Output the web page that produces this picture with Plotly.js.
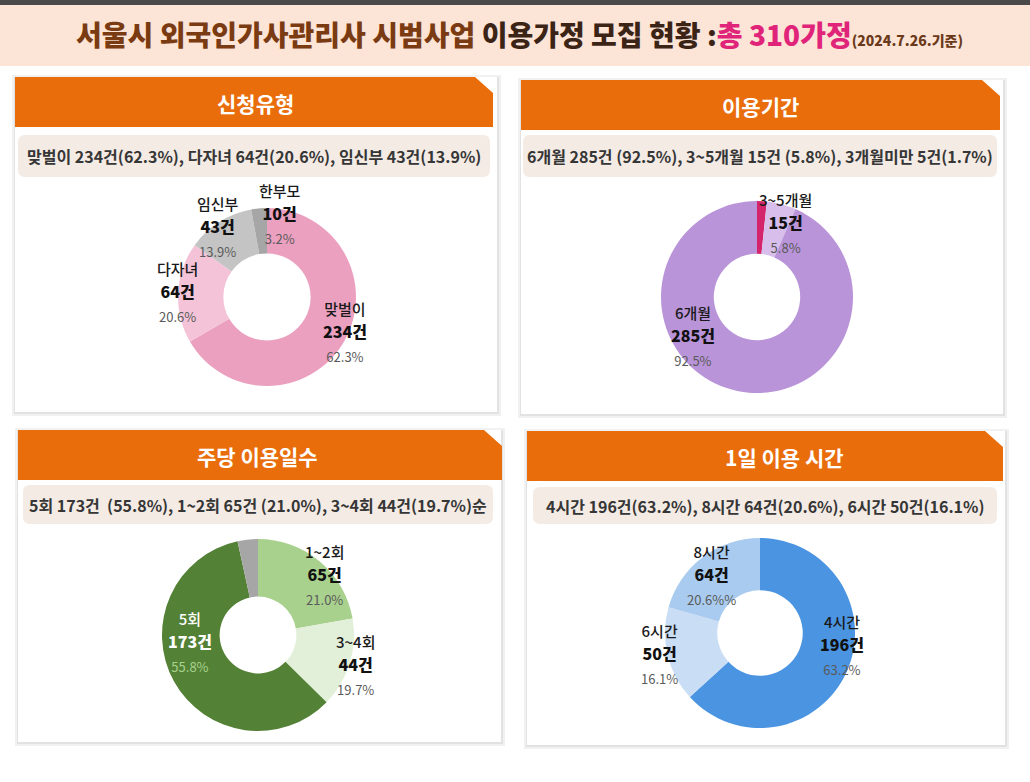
<!DOCTYPE html>
<html>
<head>
<meta charset="utf-8">
<script src="https://cdn.plot.ly/plotly-3.0.1.min.js"></script>
<style>
  html, body { margin: 0; padding: 0; background: #ffffff; }
  #chart { width: 1030px; height: 782px; }
</style>
</head>
<body>
<div id="chart"></div>
<script>
// ---------------- DATA ----------------
const typeLabels = ['맞벌이', '다자녀', '임신부', '한부모'];
const typeCounts = [234, 64, 43, 10];
const typePcts = ['62.3%', '20.6%', '13.9%', '3.2%'];

const periodLabels = ['3개월미만', '3~5개월', '6개월'];
const periodCounts = [5, 15, 285];
const periodPcts = ['1.7%', '5.8%', '92.5%'];

const daysLabels = ['1~2회', '3~4회', '5회', '기타'];
const daysCounts = [65, 44, 173, 10];
const daysPcts = ['21.0%', '19.7%', '55.8%', ''];

const hoursLabels = ['4시간', '6시간', '8시간'];
const hoursCounts = [196, 50, 64];
const hoursPcts = ['63.2%', '16.1%', '20.6%%'];

const panelTitles = ['신청유형', '이용기간', '주당 이용일수', '1일 이용 시간'];
const panelSummaries = [
  '맞벌이 234건(62.3%), 다자녀 64건(20.6%), 임신부 43건(13.9%)',
  '6개월 285건 (92.5%), 3~5개월 15건 (5.8%), 3개월미만 5건(1.7%)',
  '5회 173건  (55.8%), 1~2회 65건 (21.0%), 3~4회 44건(19.7%)순',
  '4시간 196건(63.2%), 8시간 64건(20.6%), 6시간 50건(16.1%)'
];

// ---------------- LAYOUT HELPERS ----------------
const W = 1030, H = 782;
const px = x => x / W;
const py = y => 1 - y / H;
const FONT = '"Noto Sans CJK KR", "Noto Sans", sans-serif';

const shapes = [];
const annotations = [];

// title band
shapes.push({type: 'rect', xref: 'paper', yref: 'paper', x0: 0, x1: 1, y0: py(5), y1: py(0), fillcolor: '#4a4a4a', line: {width: 0}, layer: 'below'});
shapes.push({type: 'rect', xref: 'paper', yref: 'paper', x0: 0, x1: 1, y0: py(66), y1: py(5), fillcolor: '#fce4d6', line: {width: 0}, layer: 'below'});

annotations.push({
  xref: 'paper', yref: 'paper', x: px(519), y: py(34), xanchor: 'center', yanchor: 'middle', showarrow: false,
  text: '<span style="color:#7a3b12">서울시 외국인가사관리사 시범사업</span> ' +
        '<span style="color:#3b2416">이용가정 모집 현황 :</span>' +
        '<span style="color:#e0247a">총 310가정</span>' +
        '<span style="color:#6b3a1a;font-size:14px">(2024.7.26.기준)</span>',
  font: {family: FONT, size: 28, color: '#7a3b12', weight: 800}
});

// panel frames
const frames = [
  {x0: 15, x1: 497, y0: 77, y1: 412, hy1: 127, hx1: 493, sx0: 18, sx1: 490, sy0: 135, sy1: 177, tcx: 255},
  {x0: 521, x1: 1003, y0: 80, y1: 414, hy1: 130, hx1: 1000, sx0: 523, sx1: 997, sy0: 135, sy1: 177, tcx: 760},
  {x0: 18, x1: 501, y0: 430, y1: 742, hy1: 480, hx1: 502, sx0: 23, sx1: 493, sy0: 485, sy1: 524, tcx: 257},
  {x0: 527, x1: 1005, y0: 431, y1: 745, hy1: 481, hx1: 1003, sx0: 533, sx1: 997, sy0: 487, sy1: 524, tcx: 784}
];

function roundRectPath(x0, y0, x1, y1, r) {
  return `M${px(x0 + r)},${py(y0)} L${px(x1 - r)},${py(y0)} Q${px(x1)},${py(y0)} ${px(x1)},${py(y0 + r)} ` +
         `L${px(x1)},${py(y1 - r)} Q${px(x1)},${py(y1)} ${px(x1 - r)},${py(y1)} ` +
         `L${px(x0 + r)},${py(y1)} Q${px(x0)},${py(y1)} ${px(x0)},${py(y1 - r)} ` +
         `L${px(x0)},${py(y0 + r)} Q${px(x0)},${py(y0)} ${px(x0 + r)},${py(y0)} Z`;
}

frames.forEach((f, i) => {
  shapes.push({type: 'rect', xref: 'paper', yref: 'paper', x0: px(f.x0 - 3), x1: px(f.x1 + 4), y0: py(f.y1 + 4), y1: py(f.y0 - 2), fillcolor: '#f1f1f1', line: {width: 0}, layer: 'below'});
  shapes.push({type: 'rect', xref: 'paper', yref: 'paper', x0: px(f.x0 - 1), x1: px(f.x1 + 2), y0: py(f.y1 + 2), y1: py(f.y0), fillcolor: '#e2e2e2', line: {width: 0}, layer: 'below'});
  shapes.push({type: 'rect', xref: 'paper', yref: 'paper', x0: px(f.x0), x1: px(f.x1), y0: py(f.y1), y1: py(f.y0), fillcolor: '#ffffff', line: {width: 0}, layer: 'below'});
  const cut = 18;
  shapes.push({
    type: 'path', xref: 'paper', yref: 'paper', layer: 'below',
    path: `M${px(f.x0)},${py(f.y0)} L${px(f.hx1 - cut)},${py(f.y0)} L${px(f.hx1)},${py(f.y0 + 16)} L${px(f.hx1)},${py(f.hy1)} L${px(f.x0)},${py(f.hy1)} Z`,
    fillcolor: '#e96d0b', line: {width: 0}
  });
  shapes.push({type: 'path', xref: 'paper', yref: 'paper', layer: 'below', path: roundRectPath(f.sx0, f.sy0, f.sx1, f.sy1, 7), fillcolor: '#f4ebe5', line: {width: 0}});
  annotations.push({xref: 'paper', yref: 'paper', x: px(f.tcx), y: py((f.y0 + f.hy1) / 2 + 1), xanchor: 'center', yanchor: 'middle', showarrow: false,
    text: panelTitles[i], font: {family: FONT, size: 21, color: '#ffffff', weight: 700}});
  annotations.push({xref: 'paper', yref: 'paper', x: px((f.sx0 + f.sx1) / 2), y: py((f.sy0 + f.sy1) / 2), xanchor: 'center', yanchor: 'middle', showarrow: false,
    text: panelSummaries[i], font: {family: FONT, size: 16, color: '#363636', weight: 600}});
});

// ---------------- DONUTS ----------------
function dom(cx, cy, r) {
  return {x: [px(cx - r), px(cx + r)], y: [py(cy + r), py(cy - r)]};
}
function donut(labels, values, colors, cx, cy, r, hole) {
  return {
    type: 'pie', labels: labels, values: values, sort: false, direction: 'clockwise', rotation: 0,
    hole: hole, domain: dom(cx, cy, r), textinfo: 'none', hoverinfo: 'label+value',
    marker: {colors: colors, line: {width: 0}}, showlegend: false
  };
}

const traces = [
  donut(typeLabels, typeCounts, ['#eca0c0', '#f4c3d8', '#c4c4c4', '#a6a6a6'], 267, 297, 89, 0.49),
  donut(periodLabels, periodCounts, ['#d4246c', '#d8bfeb', '#b994d8'], 757, 297, 96, 0.45),
  donut(daysLabels, daysCounts, ['#a9d18e', '#e2efd9', '#538135', '#a6a6a6'], 258, 635, 96, 0.40),
  donut(hoursLabels, hoursCounts, ['#4a94e2', '#c9ddf5', '#a9cbf0'], 760, 633, 95, 0.45)
];

// ---------------- SLICE LABELS ----------------
function sliceLabel(name, count, pct, x, y, opts) {
  opts = opts || {};
  const nameColor = opts.nameColor || '#1a1a1a';
  const countColor = opts.countColor || '#111111';
  const pctColor = opts.pctColor || '#5a5a5a';
  let txt = `<span style="color:${nameColor};font-size:15px">${name}</span><br>` +
            `<span style="color:${countColor};font-weight:800;font-size:16px">${count}건</span>`;
  if (pct) txt += `<br><span style="color:${pctColor};font-weight:400;font-size:13px">${pct}</span>`;
  annotations.push({xref: 'paper', yref: 'paper', x: px(x), y: py(y), xanchor: 'center', yanchor: 'top', showarrow: false,
    align: 'center', text: txt, font: {family: FONT, size: 18, color: nameColor, weight: 500}});
}

// y = top of the label block
// panel 1
sliceLabel(typeLabels[3], typeCounts[3], typePcts[3], 280, 178);
sliceLabel(typeLabels[2], typeCounts[2], typePcts[2], 218, 191);
sliceLabel(typeLabels[1], typeCounts[1], typePcts[1], 177, 256);
sliceLabel(typeLabels[0], typeCounts[0], typePcts[0], 345, 296);
// panel 2
sliceLabel(periodLabels[1], periodCounts[1], periodPcts[1], 785, 187);
sliceLabel(periodLabels[2], periodCounts[2], periodPcts[2], 693, 300);
// panel 3
sliceLabel(daysLabels[0], daysCounts[0], daysPcts[0], 324, 539);
sliceLabel(daysLabels[1], daysCounts[1], daysPcts[1], 355, 629);
sliceLabel(daysLabels[2], daysCounts[2], daysPcts[2], 190, 606, {nameColor: '#ffffff', countColor: '#ffffff', pctColor: '#a9d18e'});
// panel 4
sliceLabel(hoursLabels[2], hoursCounts[2], hoursPcts[2], 711, 539);
sliceLabel(hoursLabels[1], hoursCounts[1], hoursPcts[1], 659, 618);
sliceLabel(hoursLabels[0], hoursCounts[0], hoursPcts[0], 842, 609);

const layout = {
  width: W, height: H,
  margin: {l: 0, r: 0, t: 0, b: 0},
  paper_bgcolor: '#ffffff',
  plot_bgcolor: '#ffffff',
  showlegend: false,
  shapes: shapes,
  annotations: annotations
};

Plotly.newPlot('chart', traces, layout, {displayModeBar: false, staticPlot: true});
</script>
</body>
</html>
